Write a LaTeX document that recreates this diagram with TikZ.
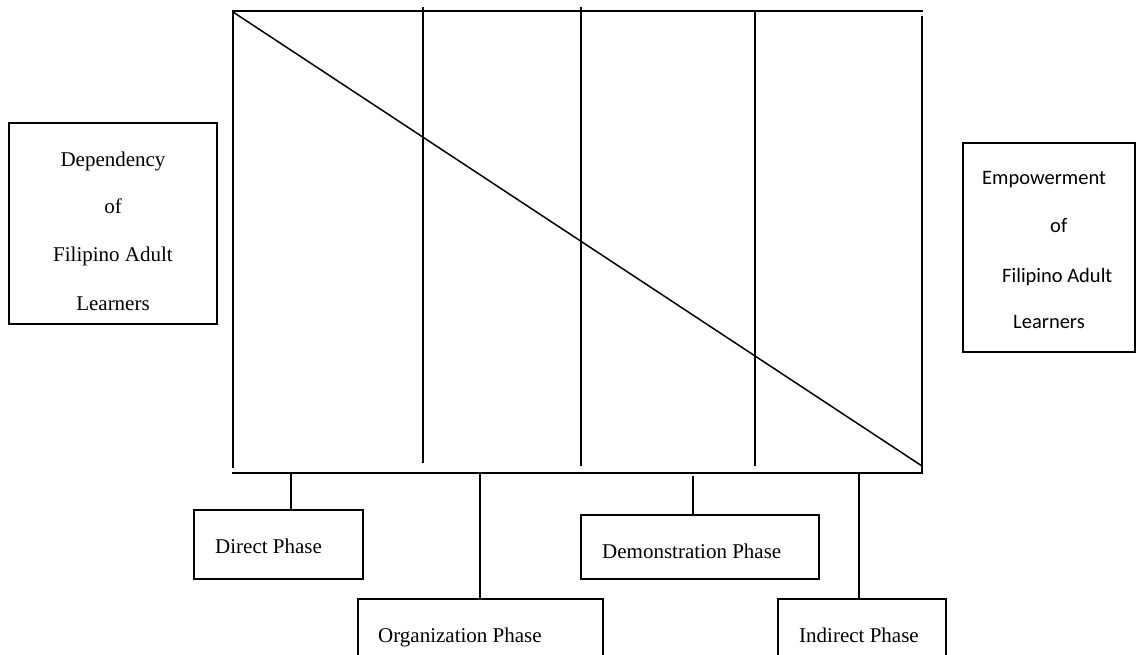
\documentclass[tikz,border=0pt]{standalone}
\usepackage{fontspec}
\setmainfont{Liberation Serif}
\newfontfamily\calib{Carlito}
\begin{document}
\begin{tikzpicture}[x=1pt,y=-1pt,
  ln/.style={line width=1.5pt,line cap=rect},
  box/.style={draw,line width=1.5pt,rectangle,inner sep=0pt},
  txt/.style={anchor=base west,inner sep=0pt,font=\fontsize{21}{25}\selectfont},
  stxt/.style={anchor=base west,inner sep=0pt,font=\calib\fontsize{20.5}{25}\selectfont},
  ctxt/.style={anchor=base,inner sep=0pt,font=\fontsize{21}{25}\selectfont}]
\useasboundingbox (0,0) rectangle (1145,655);
\fill[white] (0,0) rectangle (1145,655);
% frame coordinates
\coordinate (tl) at (233,11);
\coordinate (tr) at (922,11);
\coordinate (ltop) at (233,12);
\coordinate (lbot) at (233,467);
\coordinate (rtop) at (922,17);
\coordinate (rbot) at (922,473);
\coordinate (bl) at (233,473);
\coordinate (br) at (922,473);
\coordinate (dg) at (922,466);
\coordinate (v1t) at (423,8);  \coordinate (v1b) at (423,462);
\coordinate (v2t) at (581,8);  \coordinate (v2b) at (581,465);
\coordinate (v3t) at (755,11); \coordinate (v3b) at (755,465);
\draw[ln] (tl) -- (tr);
\draw[ln] (ltop) -- (lbot);
\draw[ln] (rtop) -- (rbot);
\draw[ln] (bl) -- (br);
\draw[ln] (v1t) -- (v1b);
\draw[ln] (v2t) -- (v2b);
\draw[ln] (v3t) -- (v3b);
\draw[line width=1.5pt] (ltop) -- (dg);
% side boxes
\node[box,minimum width=208pt,minimum height=201pt] (dep) at (113,223.5) {};
\node[ctxt] (dep1) at (113,167) {Dependency};
\node[ctxt] (dep2) at (113,213) {of};
\node[ctxt] (dep3) at (113,261) {Filipino Adult};
\node[ctxt] (dep4) at (113,310) {Learners};
\node[box,minimum width=172pt,minimum height=209pt] (emp) at (1049,247.5) {};
\node[stxt] (emp1) at (982,185) {Empowerment};
\node[stxt] (emp2) at (1050,232) {of};
\node[stxt] (emp3) at (1002,282) {Filipino Adult};
\node[stxt] (emp4) at (1013,328) {Learners};
% phase boxes
\node[box,minimum width=169pt,minimum height=69pt] (direct) at (278.5,544.5) {};
\node[txt] (directt) at (215,553) {Direct Phase};
\node[box,minimum width=238pt,minimum height=64pt] (demo) at (700,547) {};
\node[txt] (demot) at (602,558) {Demonstration Phase};
\node[box,minimum width=245pt,minimum height=80pt] (org) at (480.5,639) {};
\node[txt] (orgt) at (378,642) {Organization Phase};
\node[box,minimum width=168pt,minimum height=80pt] (ind) at (862,639) {};
\node[txt] (indt) at (799,642) {Indirect Phase};
% connectors
\coordinate (c1) at (291,473);
\coordinate (c2) at (480,473);
\coordinate (c3) at (693,476);
\coordinate (c4) at (859,473);
\draw[line width=1.5pt] (c1) -- (c1 |- direct.north);
\draw[line width=1.5pt] (c2) -- (c2 |- org.north);
\draw[line width=1.5pt] (c3) -- (c3 |- demo.north);
\draw[line width=1.5pt] (c4) -- (c4 |- ind.north);
\end{tikzpicture}
\end{document}
